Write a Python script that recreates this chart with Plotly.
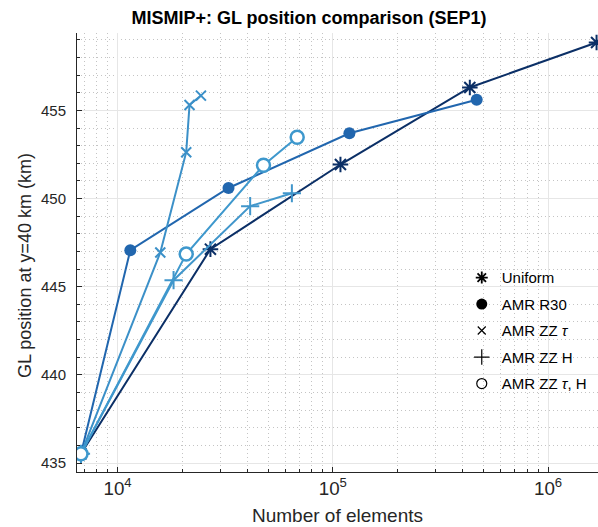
import plotly.graph_objects as go
import numpy as np

# Data
uniform_n = [6760, 27000, 108500, 433000, 1.68e6]
uniform_gl = [435.52, 447.13, 451.93, 456.30, 458.85]
r30_n = [6760, 11460, 32760, 119400, 466000]
r30_gl = [435.52, 447.07, 450.60, 453.70, 455.60]
zzt_n = [6760, 15790, 20840, 21590, 24390]
zzt_gl = [435.52, 446.94, 452.63, 455.31, 455.84]
zzh_n = [6760, 18200, 41300, 64530]
zzh_gl = [435.52, 445.37, 449.57, 450.30]
zzth_n = [6760, 20840, 47630, 68300]
zzth_gl = [435.52, 446.85, 451.89, 453.48]

series_names = ["Uniform", "AMR R30", "AMR ZZ <i>τ</i>", "AMR ZZ H", "AMR ZZ <i>τ</i>, H"]
colors = ["#0b2f66", "#2166ae", "#3b90c8", "#4196cb", "#3e98cd"]

FONT = "Liberation Sans, Arial, sans-serif"
fig = go.Figure()

specs = [
    (uniform_n, uniform_gl, dict(symbol="asterisk-open", size=13, color=colors[0], line=dict(color=colors[0], width=2))),
    (r30_n, r30_gl, dict(symbol="circle", size=12, color=colors[1], line=dict(color=colors[1], width=0))),
    (zzt_n, zzt_gl, dict(symbol="x-thin-open", size=10, color=colors[2], line=dict(color=colors[2], width=2))),
    (zzh_n, zzh_gl, dict(symbol="cross-thin-open", size=13, color=colors[3], line=dict(color=colors[3], width=2))),
    (zzth_n, zzth_gl, dict(symbol="circle", size=13, color="white", line=dict(color=colors[4], width=2.5))),
]
for (xs, ys, mk), c, nm in zip(specs, colors, series_names):
    fig.add_trace(go.Scatter(x=xs, y=ys, mode="lines+markers", line=dict(color=c, width=2),
                             marker=mk, showlegend=False, name=nm, cliponaxis=True))

# legend entries (black symbols)
leg_markers = [
    dict(symbol="asterisk-open", size=10, color="black", line=dict(color="black", width=1.8)),
    dict(symbol="circle", size=11, color="black"),
    dict(symbol="x-thin-open", size=8, color="black", line=dict(color="black", width=1.2)),
    dict(symbol="cross-thin-open", size=11, color="black", line=dict(color="black", width=1.2)),
    dict(symbol="circle-open", size=10, color="black", line=dict(color="black", width=1.2)),
]
for i, (nm, mk) in enumerate(zip(series_names, leg_markers)):
    fig.add_trace(go.Scatter(x=[None], y=[None], mode="markers", marker=mk, name=nm,
                             legendgroup="g%d" % i, showlegend=True))

axis_common = dict(
    showline=True, linecolor="#262626", linewidth=1, mirror=False,
    ticks="inside", ticklen=5, tickcolor="#262626",
    showgrid=True, gridcolor="#e6e6e6", gridwidth=1,
    zeroline=False,
    tickfont=dict(family=FONT, size=15, color="#262626"),
)
minor_common = dict(showgrid=True, gridcolor="#c4c4c4", griddash="1px,3px", ticks="inside",
                    ticklen=3, tickcolor="#262626")

fig.update_xaxes(
    type="log", range=[np.log10(6478), 6.232], dtick=1,
    exponentformat="power", showexponent="all",
    minor=dict(dtick="D1", **minor_common),
    title=dict(text="Number of elements", font=dict(family=FONT, size=19, color="#262626"), standoff=10),
    **axis_common,
)
fig.update_yaxes(
    range=[434.49, 459.39], dtick=5, tick0=435, ticklabelstandoff=7,
    minor=dict(dtick=1, **minor_common),
    **axis_common,
)

# y-axis label placed where the reference draws it
fig.add_annotation(text="GL position at y=40 km (km)", xref="paper", yref="paper",
                   x=(25 - 77) / 521, y=(472 - 266) / 439, xanchor="center", yanchor="middle",
                   textangle=-90, showarrow=False,
                   font=dict(family=FONT, size=18, color="#262626"))

fig.update_layout(
    width=598, height=527,
    margin=dict(l=77, r=0, t=33, b=55),
    plot_bgcolor="white", paper_bgcolor="white",
    title=dict(text="<b>MISMIP+: GL position comparison (SEP1)</b>", x=309 / 598, xanchor="center",
               y=1 - 18 / 527, yanchor="middle", font=dict(family=FONT, size=18, color="black")),
    legend=dict(x=0.7385, y=0.48, xanchor="left", yanchor="top", bgcolor="rgba(0,0,0,0)",
                font=dict(family=FONT, size=15, color="black"), tracegroupgap=4,
                itemwidth=30),
    showlegend=True,
)

fig.write_html("out.html")
